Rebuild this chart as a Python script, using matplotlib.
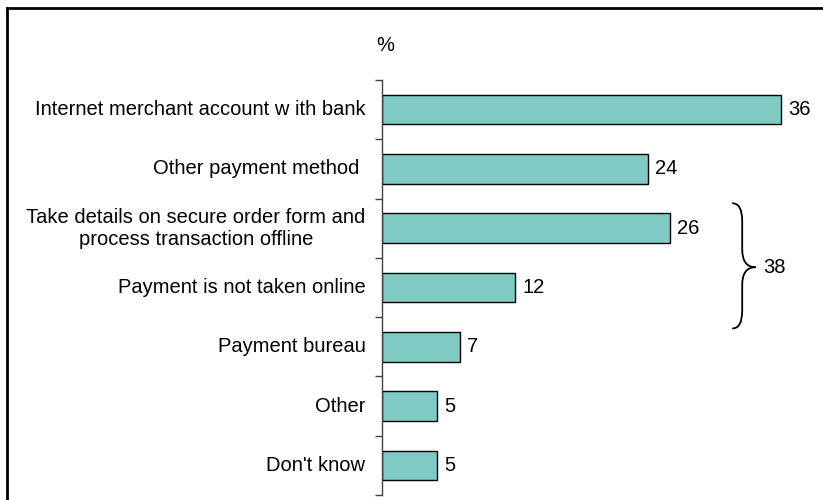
import matplotlib
matplotlib.use("Agg")
import matplotlib.pyplot as plt
from matplotlib.path import Path
from matplotlib.patches import PathPatch
from matplotlib.lines import Line2D

plt.rcParams['font.family'] = ['Liberation Sans', 'DejaVu Sans']

categories = [
    "Internet merchant account w ith bank",
    "Other payment method ",
    "Take details on secure order form and\nprocess transaction offline",
    "Payment is not taken online",
    "Payment bureau",
    "Other",
    "Don't know",
]
values = [36, 24, 26, 12, 7, 5, 5]
group_total = 38
group_members = (2, 3)

bar_color = "#7fcbc4"
FS = 14.5

fig = plt.figure(figsize=(8.23, 5.0), dpi=100)

# frame around the chart (top and left edges visible)
fig.add_artist(Line2D([7/823, 7/823], [0, 1 - 8/500], transform=fig.transFigure,
                      color="black", lw=2.0))
fig.add_artist(Line2D([7/823, 1.0], [1 - 8/500, 1 - 8/500], transform=fig.transFigure,
                      color="black", lw=2.0))

left_px, right_px = 382, 810
top_px, bot_px = 80, 495
ax = fig.add_axes([left_px/823, (500-bot_px)/500, (right_px-left_px)/823, (bot_px-top_px)/500])
px_per_unit = 399/36
ax.set_xlim(0, (right_px-left_px)/px_per_unit)
ax.set_ylim(len(categories)-0.5, -0.5)

ypos = list(range(len(categories)))
ax.barh(ypos, values, height=0.5, color=bar_color, edgecolor="black", linewidth=1.0)

for y, v in zip(ypos, values):
    ax.text(v + 0.65, y, str(v), va="center", ha="left", fontsize=FS)

for y, lab in zip(ypos, categories):
    ax.text(-1.5, y, lab, va="center", ha="right", fontsize=FS, multialignment="center",
            linespacing=1.2)

for s in ["top", "right", "bottom"]:
    ax.spines[s].set_visible(False)
ax.spines["left"].set_color("#404040")
ax.spines["left"].set_linewidth(1.0)
ax.set_xticks([])
ax.set_yticks([i - 0.5 for i in range(len(categories)+1)])
ax.set_yticklabels([])
ax.tick_params(axis="y", direction="out", length=5, width=1.0, color="#404040")

ax.text(0.3, -0.5 - 35/59.3, "%", ha="center", va="center", fontsize=FS)

# brace grouping two categories
a, b = group_members
ytop = a - 25/59.3
ybot = b + 41/59.3
ymid = a + 39/59.3
x0, x1, x2 = 31.6, 32.5, 33.7
r = 0.3
verts = [
    (x0, ytop), (x1, ytop), (x1, ytop + r),
    (x1, ymid - r), (x1, ymid), (x2, ymid),
    (x1, ymid), (x1, ymid + r),
    (x1, ybot - r), (x1, ybot), (x0, ybot),
]
codes = [Path.MOVETO, Path.CURVE3, Path.CURVE3,
         Path.LINETO, Path.CURVE3, Path.CURVE3,
         Path.CURVE3, Path.CURVE3,
         Path.LINETO, Path.CURVE3, Path.CURVE3]
ax.add_patch(PathPatch(Path(verts, codes), fill=False, lw=1.3, edgecolor="black",
                       clip_on=False))
ax.text(34.4, ymid, str(group_total), va="center", ha="left", fontsize=FS)

fig.savefig("out.png", dpi=100)
